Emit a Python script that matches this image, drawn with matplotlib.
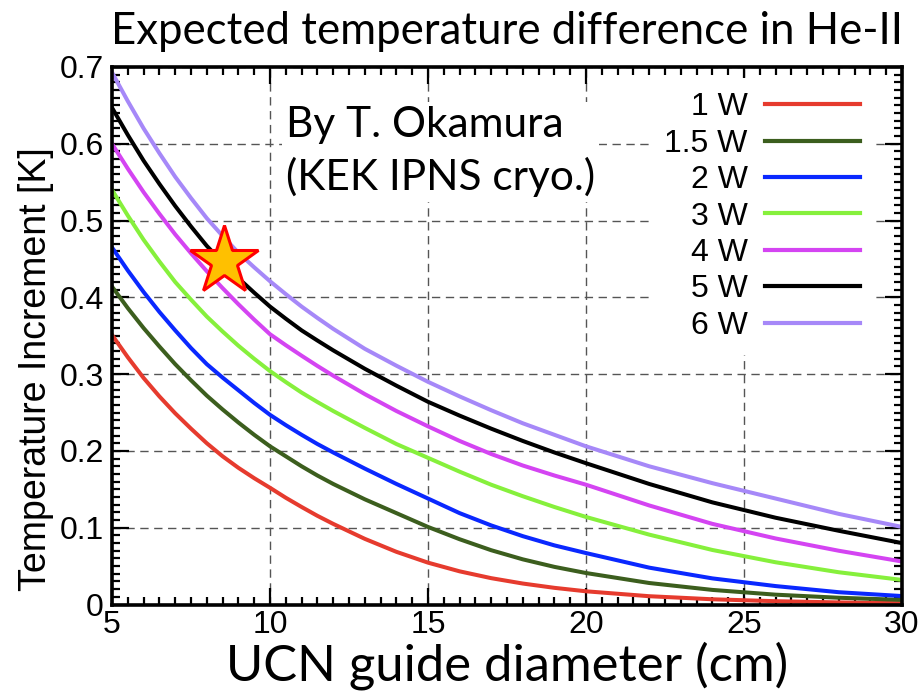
import matplotlib
matplotlib.use("Agg")
import matplotlib.pyplot as plt
from matplotlib.ticker import MultipleLocator

# ---- data ----
diameter_cm = [5, 5.5, 6, 6.5, 7, 7.5, 8, 8.5, 9, 9.5, 10, 10.5, 11, 11.5, 12, 13, 14, 15,
               16, 17, 18, 19, 20, 22, 24, 26, 28, 30]

dT_1W   = [0.351, 0.322, 0.295, 0.271, 0.249, 0.229, 0.210, 0.193, 0.178, 0.1645, 0.152,
           0.139, 0.127, 0.1155, 0.105, 0.0855, 0.0686, 0.0545,
           0.0432, 0.0343, 0.0273, 0.0217, 0.0172, 0.0108, 0.0068, 0.0043, 0.0027, 0.0017]
dT_1p5W = [0.414, 0.386, 0.360, 0.336, 0.313, 0.292, 0.272, 0.254, 0.237, 0.221, 0.206,
           0.193, 0.180, 0.168, 0.157, 0.137, 0.119, 0.101,
           0.085, 0.0707, 0.0588, 0.049, 0.041, 0.028, 0.019, 0.0128, 0.0088, 0.006]
dT_2W   = [0.465, 0.435, 0.407, 0.381, 0.357, 0.334, 0.313, 0.2955, 0.279, 0.2625, 0.247,
           0.2336, 0.221, 0.209, 0.198, 0.177, 0.157, 0.138,
           0.119, 0.103, 0.089, 0.077, 0.067, 0.048, 0.034, 0.024, 0.016, 0.011]
dT_3W   = [0.540, 0.5065, 0.475, 0.4467, 0.420, 0.397, 0.375, 0.3555, 0.337, 0.320, 0.304,
           0.2897, 0.276, 0.2637, 0.252, 0.230, 0.209, 0.191,
           0.173, 0.156, 0.141, 0.127, 0.114, 0.091, 0.071, 0.055, 0.042, 0.032]
dT_4W   = [0.600, 0.5676, 0.537, 0.5088, 0.482, 0.4574, 0.434, 0.412, 0.391, 0.371, 0.352,
           0.3377, 0.324, 0.3107, 0.298, 0.274, 0.252, 0.232,
           0.213, 0.196, 0.181, 0.168, 0.156, 0.129, 0.105, 0.086, 0.070, 0.056]
dT_5W   = [0.647, 0.6115, 0.578, 0.5477, 0.519, 0.4923, 0.467, 0.4455, 0.425, 0.4061, 0.388,
           0.3722, 0.357, 0.3438, 0.331, 0.307, 0.285, 0.264,
           0.246, 0.229, 0.213, 0.198, 0.184, 0.157, 0.133, 0.113, 0.096, 0.080]
dT_6W   = [0.693, 0.6555, 0.620, 0.5877, 0.557, 0.5293, 0.503, 0.480, 0.458, 0.4391, 0.421,
           0.4042, 0.388, 0.3732, 0.359, 0.333, 0.311, 0.290,
           0.271, 0.253, 0.236, 0.221, 0.206, 0.180, 0.158, 0.138, 0.118, 0.101]

series_labels = ["1 W", "1.5 W", "2 W", "3 W", "4 W", "5 W", "6 W"]
series_values = [dT_1W, dT_1p5W, dT_2W, dT_3W, dT_4W, dT_5W, dT_6W]
series_colors = ["#e63b2e", "#3c5e1e", "#0a28ff", "#86f03c", "#d444f2", "#000000", "#a688f8"]

star_x = [8.55]
star_y = [0.448]

x_ticks = [5, 10, 15, 20, 25, 30]
x_tick_labels = ["5", "10", "15", "20", "25", "30"]
y_ticks = [0, 0.1, 0.2, 0.3, 0.4, 0.5, 0.6, 0.7]
y_tick_labels = ["0", "0.1", "0.2", "0.3", "0.4", "0.5", "0.6", "0.7"]

# ---- figure ----
W, H = 920, 695
fig = plt.figure(figsize=(W / 100, H / 100), dpi=100)
L, R, T, B = 112, 902, 67, 604.5
ax = fig.add_axes([L / W, (H - B) / H, (R - L) / W, (B - T) / H])

sans = "Liberation Sans"
calib = "Lato"

for lab, vals, col in zip(series_labels, series_values, series_colors):
    ax.plot(diameter_cm, vals, color=col, lw=2.9, label=lab, solid_joinstyle="round", zorder=2)

ax.plot(star_x, star_y, marker="*", ms=52, mfc="#ffc000", mec="#ff0000", mew=2.2,
        ls="none", zorder=6)

ax.set_xlim(5, 30)
ax.set_ylim(0, 0.7)
ax.set_xticks(x_ticks)
ax.set_xticklabels(x_tick_labels, fontfamily=sans, fontsize=23)
ax.set_yticks(y_ticks)
ax.set_yticklabels(y_tick_labels, fontfamily=sans, fontsize=23)
ax.xaxis.set_minor_locator(MultipleLocator(0.5))
ax.yaxis.set_minor_locator(MultipleLocator(0.01))
ax.tick_params(which="both", direction="in", top=True, right=True, colors="black")
ax.tick_params(which="major", length=12, width=1.6)
ax.tick_params(axis="x", which="major", pad=4)
ax.tick_params(axis="y", which="major", pad=6)
ax.tick_params(which="minor", length=5.5, width=1.6)
for s in ax.spines.values():
    s.set_linewidth(2.6)

ax.set_axisbelow(True)
ax.grid(True, which="major", linestyle=(0, (6, 4)), color="#555555", linewidth=1.0)

ax.set_ylabel("Temperature Increment [K]", fontfamily=sans, fontsize=27)
ax.yaxis.set_label_coords((54 - L) / (R - L), (B - 369) / (B - T))
ax.set_xlabel("UCN guide diameter (cm)", fontfamily=calib, fontsize=36.5, labelpad=1)

fig.text((L + R) / 2 / W, 1 - 31 / H, "Expected temperature difference in He-II",
         fontfamily=calib, fontsize=31.5, ha="center", va="center")

ax.text((286 - L) / (R - L), (B - 106) / (B - T), "By T. Okamura\n(KEK IPNS cryo.)",
        transform=ax.transAxes, fontfamily=calib, fontsize=30.5, ha="left", va="top",
        linespacing=1.4, zorder=3,
        bbox=dict(boxstyle="square,pad=0.1", fc="white", ec="none"))

leg = ax.legend(loc="upper left",
                bbox_to_anchor=((650 - L) / (R - L), (B - 78) / (B - T)),
                markerfirst=False, frameon=True, fancybox=False, framealpha=1,
                edgecolor="none", facecolor="white", borderaxespad=0,
                borderpad=0.45, handlelength=2.95, handletextpad=0.55,
                labelspacing=0.2, prop=dict(family=sans, size=23))
leg.set_zorder(5)
for col in leg._legend_handle_box.get_children():
    col.align = "right"
for ln in leg.get_lines():
    ln.set_linewidth(3.0)

fig.savefig("out.png", dpi=100)
